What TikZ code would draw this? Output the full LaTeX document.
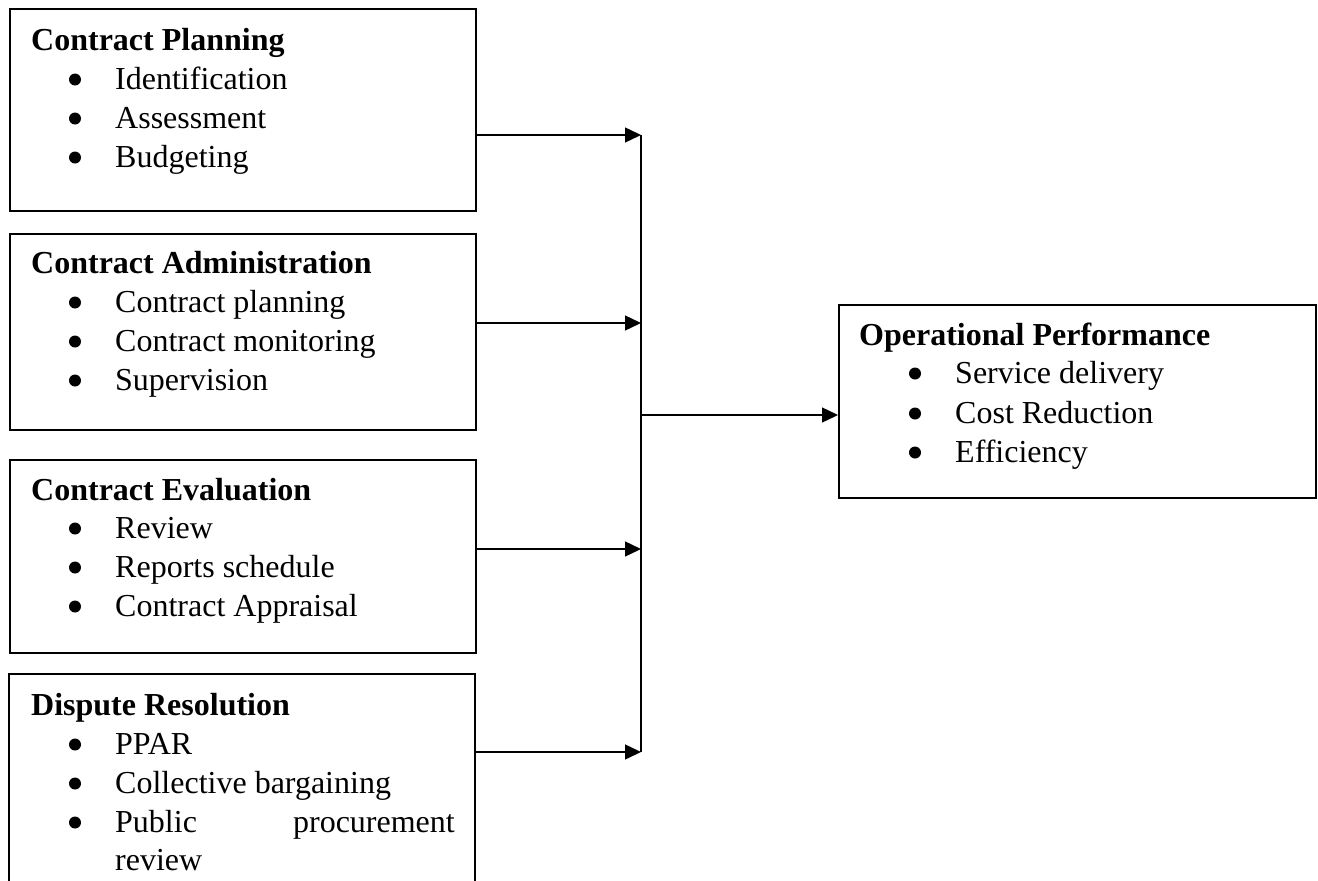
\documentclass[tikz,border=0pt]{standalone}
\usepackage{fontspec}
\setmainfont{Liberation Serif}
\usetikzlibrary{arrows.meta}
\begin{document}
\begin{tikzpicture}[x=1pt,y=-1pt,
  box/.style={draw=black,line width=2pt,minimum width=0pt,minimum height=0pt,inner sep=0pt},
  openbox/.style={draw=none,inner sep=0pt},
  head/.style={anchor=base west,inner sep=0pt,font=\fontsize{32}{38}\selectfont\bfseries},
  item/.style={anchor=base west,inner sep=0pt,font=\fontsize{32}{38}\selectfont},
  bul/.style={circle,fill=black,inner sep=0pt,minimum size=12pt,yshift=9.5pt},
  conn/.style={line width=1.4pt,-{Triangle[length=16pt,width=15pt]}},
  bus/.style={line width=1.4pt}]
\useasboundingbox (0,0) rectangle (1318,881);
% boxes
\node[box,minimum width=466pt,minimum height=202pt,anchor=north west] (b1) at (9,8) {};
\node[box,minimum width=466pt,minimum height=196pt,anchor=north west] (b2) at (9,233) {};
\node[box,minimum width=466pt,minimum height=193pt,anchor=north west] (b3) at (9,459) {};
\node[openbox,minimum width=466pt,minimum height=208pt,anchor=north west] (b4) at (9,674) {};
\draw[line width=2pt] (b4.south west) -- (b4.north west) -- (b4.north east) -- (b4.south east);
\node[box,minimum width=477pt,minimum height=193pt,anchor=north west] (op) at (838,304) {};
% box 1
\node[head] (h1) at (31,50) {Contract Planning};
\node[bul] (b1a) at (75,89) {}; \node[item] (t1a) at (115,89) {Identification};
\node[bul] (b1b) at (75,128) {}; \node[item] (t1b) at (115,128) {Assessment};
\node[bul] (b1c) at (75,167) {}; \node[item] (t1c) at (115,167) {Budgeting};
% box 2
\node[head] (h2) at (31,273) {Contract Administration};
\node[bul] (b2a) at (75,312) {}; \node[item] (t2a) at (115,312) {Contract planning};
\node[bul] (b2b) at (75,351) {}; \node[item] (t2b) at (115,351) {Contract monitoring};
\node[bul] (b2c) at (75,390) {}; \node[item] (t2c) at (115,390) {Supervision};
% box 3
\node[head] (h3) at (31,500) {Contract Evaluation};
\node[bul] (b3a) at (75,538) {}; \node[item] (t3a) at (115,538) {Review};
\node[bul] (b3b) at (75,577) {}; \node[item] (t3b) at (115,577) {Reports schedule};
\node[bul] (b3c) at (75,616) {}; \node[item] (t3c) at (115,616) {Contract Appraisal};
% box 4
\node[head] (h4) at (31,715) {Dispute Resolution};
\node[bul] (b4a) at (75,754) {}; \node[item] (t4a) at (115,754) {PPAR};
\node[bul] (b4b) at (75,793) {}; \node[item] (t4b) at (115,793) {Collective bargaining};
\node[bul] (b4c) at (75,832) {}; \node[item] (t4c) at (115,832) {Public};
\node[item,anchor=base east] (t4d) at (455,832) {procurement};
\node[item] (t4e) at (115,870) {review};
% operational performance
\node[head] (h5) at (859,345) {Operational Performance};
\node[bul] (b5a) at (915,383) {}; \node[item] (t5a) at (955,383) {Service delivery};
\node[bul] (b5b) at (915,423) {}; \node[item] (t5b) at (955,423) {Cost Reduction};
\node[bul] (b5c) at (915,462) {}; \node[item] (t5c) at (955,462) {Efficiency};
% connectors
\coordinate (j1) at (641,135);
\coordinate (j2) at (641,323);
\coordinate (j3) at (641,549);
\coordinate (j4) at (641,752);
\coordinate (jm) at (641,415);
\draw[bus] (j1) -- (j4);
\draw[conn] (b1.east |- j1) -- (j1);
\draw[conn] (b2.east |- j2) -- (j2);
\draw[conn] (b3.east |- j3) -- (j3);
\draw[conn] (b4.east |- j4) -- (j4);
\draw[conn] (jm) -- (op.west |- jm);
\end{tikzpicture}
\end{document}
